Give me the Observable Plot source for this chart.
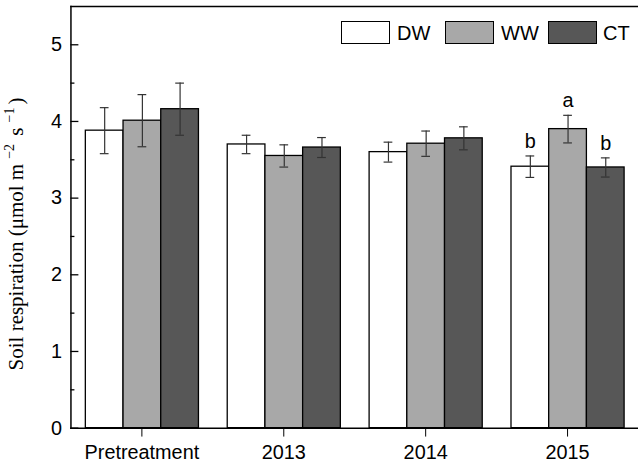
<!DOCTYPE html>
<html>
<head>
<meta charset="utf-8">
<script src="https://cdn.jsdelivr.net/npm/d3@7"></script>
<script src="https://cdn.jsdelivr.net/npm/@observablehq/plot@0.6"></script>
<style>
  html, body { margin: 0; padding: 0; background: #fff; overflow: hidden; }
  #wrap { position: relative; width: 638px; height: 466px; overflow: hidden; }
  .lg-box { position: absolute; width: 47px; height: 21px; border: 1.3px solid #000; }
  .lg-txt { position: absolute; font: 20px "Liberation Sans", Arial, sans-serif; line-height: 1; color: #000; }
  #ytitle { position: absolute; left: 16px; top: 234px; transform: translate(-50%, -50%) rotate(-90deg);
    white-space: nowrap; font: 21px "Liberation Serif", "Times New Roman", serif; line-height: 1; color: #000; }
  #ytitle sup { font-size: 14px; vertical-align: 0; position: relative; top: -9px; margin: 0 3px 0 5px; }
</style>
</head>
<body>
<div id="wrap"></div>
<script>
const years = ["Pretreatment", "2013", "2014", "2015"];
const treatments = ["DW", "WW", "CT"];
const meanDW = [3.88, 3.70, 3.60, 3.41];
const meanWW = [4.01, 3.55, 3.71, 3.90];
const meanCT = [4.16, 3.66, 3.78, 3.40];
const seDW = [0.30, 0.12, 0.13, 0.14];
const seWW = [0.34, 0.145, 0.165, 0.18];
const seCT = [0.34, 0.13, 0.15, 0.125];
const lettersDW = ["", "", "", "b"];
const lettersWW = ["", "", "", "a"];
const lettersCT = ["", "", "", "b"];
const majorTicks = [0, 1, 2, 3, 4, 5];
const minorTicks = [0.5, 1.5, 2.5, 3.5, 4.5];
const colors = ["#ffffff", "#a8a8a8", "#575757"];

const means = {DW: meanDW, WW: meanWW, CT: meanCT};
const ses = {DW: seDW, WW: seWW, CT: seCT};
const letters = {DW: lettersDW, WW: lettersWW, CT: lettersCT};
const data = [];
years.forEach((yr, i) => treatments.forEach(t => {
  data.push({year: yr, trt: t, mean: means[t][i], se: ses[t][i], lo: means[t][i] - ses[t][i], hi: means[t][i] + ses[t][i], letter: letters[t][i]});
}));

const chart = Plot.plot({
  width: 643,
  height: 466,
  marginLeft: 71,
  marginRight: 0,
  marginTop: 6,
  marginBottom: 35,
  style: {fontFamily: "'Liberation Sans', Arial, sans-serif", fontSize: "20px", color: "#000", background: "white", overflow: "visible"},
  fx: {domain: years, padding: 0, label: null, axis: null},
  x: {domain: treatments, paddingInner: 0, paddingOuter: 0.367, axis: null},
  y: {domain: [0, 5.5], axis: null},
  color: {domain: treatments, range: colors},
  marks: [
    Plot.barY(data, {fx: "year", x: "trt", y: "mean", fill: "trt", stroke: "#000", strokeWidth: 1.3}),
    Plot.ruleX(data, {fx: "year", x: "trt", y1: "lo", y2: "hi", stroke: "#333", strokeWidth: 1.2}),
    Plot.tickY(data, {fx: "year", x: "trt", y: "hi", stroke: "#333", strokeWidth: 1.2, insetLeft: 14.6, insetRight: 14.6}),
    Plot.tickY(data, {fx: "year", x: "trt", y: "lo", stroke: "#333", strokeWidth: 1.2, insetLeft: 14.6, insetRight: 14.6}),
    Plot.text(data, {fx: "year", x: "trt", y: "hi", text: "letter", dy: -8, lineAnchor: "bottom", fontSize: 20, fill: "#000"}),
    Plot.axisFx({domain: years, anchor: "bottom", tickSize: 9, tickPadding: 8, fontSize: 20, label: null}),
    Plot.axisY({ticks: majorTicks, tickSize: 0, tickPadding: 9, fontSize: 20, label: null, tickFormat: d3.format("d")}),
    Plot.axisY({ticks: majorTicks, tickSize: 8, dx: 8, text: null, label: null, strokeWidth: 1.3}),
    Plot.axisY({ticks: minorTicks, tickSize: 4, dx: 4, text: null, label: null, strokeWidth: 1.3}),
    Plot.frame({anchor: "top", facet: "super", strokeWidth: 1.5}),
    Plot.frame({anchor: "left", facet: "super", strokeWidth: 1.5}),
    Plot.frame({anchor: "bottom", facet: "super", strokeWidth: 1.5})
  ]
});

const wrap = document.getElementById("wrap");
wrap.appendChild(chart);

// legend (inside plot, top right)
const legendPos = [{box: 341, txt: 397}, {box: 445, txt: 501}, {box: 548, txt: 603}];
treatments.forEach((t, i) => {
  const b = document.createElement("div");
  b.className = "lg-box";
  b.style.left = legendPos[i].box + "px";
  b.style.top = "21px";
  b.style.background = colors[i];
  wrap.appendChild(b);
  const s = document.createElement("div");
  s.className = "lg-txt";
  s.style.left = legendPos[i].txt + "px";
  s.style.top = "23px";
  s.textContent = t;
  wrap.appendChild(s);
});

const yt = document.createElement("div");
yt.id = "ytitle";
yt.innerHTML = "Soil respiration (μmol m<sup>−2</sup> s<sup>−1</sup>)";
wrap.appendChild(yt);
</script>
</body>
</html>
